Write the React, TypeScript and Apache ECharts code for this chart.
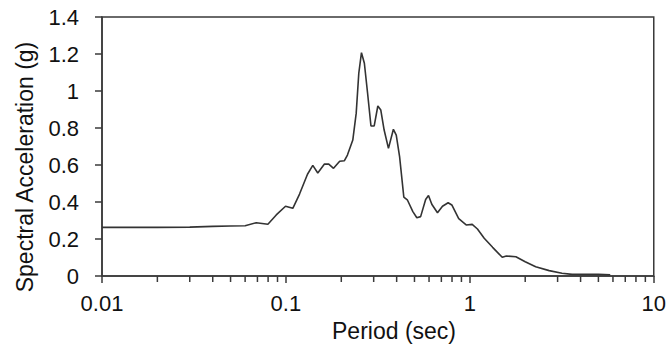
import React, { useEffect, useRef } from "react";
import * as echarts from "echarts";

const periods: number[] = [
  0.01, 0.02, 0.03, 0.04, 0.05, 0.06, 0.069, 0.0798, 0.0886, 0.0995, 0.109, 0.1186,
  0.131, 0.14, 0.149, 0.162, 0.171, 0.1815, 0.196, 0.208, 0.216, 0.231, 0.241,
  0.249, 0.2575, 0.267, 0.278, 0.29, 0.302, 0.316, 0.328, 0.342, 0.361, 0.384,
  0.398, 0.415, 0.4375, 0.457, 0.49, 0.515, 0.54, 0.575, 0.596, 0.621, 0.667,
  0.71, 0.762, 0.798, 0.87, 0.955, 1.03, 1.1, 1.197, 1.33, 1.5, 1.58, 1.78, 2.0,
  2.28, 2.7, 3.17, 3.6, 5.0, 5.8,
];
const spectralAcc: number[] = [
  0.263, 0.263, 0.264, 0.268, 0.27, 0.272, 0.288, 0.28, 0.33, 0.377, 0.366, 0.443,
  0.55, 0.598, 0.557, 0.605, 0.605, 0.582, 0.62, 0.623, 0.654, 0.735, 0.879,
  1.096, 1.207, 1.15, 0.988, 0.811, 0.811, 0.919, 0.897, 0.789, 0.69, 0.793,
  0.762, 0.645, 0.427, 0.412, 0.348, 0.315, 0.321, 0.414, 0.435, 0.388, 0.342,
  0.377, 0.396, 0.384, 0.31, 0.276, 0.279, 0.254, 0.204, 0.155, 0.101, 0.108,
  0.104, 0.077, 0.05, 0.029, 0.015, 0.009, 0.009, 0.007,
];
const minorTickValues: number[] = [
  0.02, 0.03, 0.04, 0.05, 0.06, 0.07, 0.08, 0.09,
  0.2, 0.3, 0.4, 0.5, 0.6, 0.7, 0.8, 0.9,
  2, 3, 4, 5, 6, 7, 8, 9,
];
const xTitle = "Period (sec)";
const yTitle = "Spectral Acceleration (g)";

const FONT = "'Liberation Sans', Arial, sans-serif";
const AXIS_COLOR = "#3a3a3a";

export default function App() {
  const ref = useRef<HTMLDivElement>(null);
  useEffect(() => {
    document.body.style.margin = "0";
    document.body.style.overflow = "hidden";
    if (!ref.current) return;
    const chart = echarts.init(ref.current, undefined, { renderer: "svg" });
    const lineData = periods.map((p, i) => [p, spectralAcc[i]]);
    chart.setOption({
      animation: false,
      grid: {
        left: 102,
        right: 14,
        top: 17,
        bottom: 70,
        show: true,
        borderColor: AXIS_COLOR,
        borderWidth: 1.5,
      },
      xAxis: {
        type: "log",
        logBase: 10,
        min: 0.01,
        max: 10,
        axisLine: { show: true, lineStyle: { color: AXIS_COLOR, width: 1.5 } },
        axisTick: { show: true, inside: false, length: 7, lineStyle: { color: AXIS_COLOR, width: 1.5 } },
        splitLine: { show: false },
        axisLabel: {
          color: "#111",
          fontFamily: FONT,
          fontSize: 22,
          margin: 16,
          formatter: (v: number) => String(+v.toPrecision(6)),
        },
      },
      yAxis: {
        type: "value",
        min: 0,
        max: 1.4,
        interval: 0.2,
        axisLine: { show: true, lineStyle: { color: AXIS_COLOR, width: 1.5 } },
        axisTick: { show: true, inside: false, length: 7, lineStyle: { color: AXIS_COLOR, width: 1.5 } },
        splitLine: { show: false },
        axisLabel: {
          color: "#111",
          fontFamily: FONT,
          fontSize: 22,
          margin: 23,
          formatter: (v: number) => String(+v.toFixed(1)),
        },
      },
      graphic: [
        {
          type: "text",
          x: 394,
          y: 331,
          style: {
            text: xTitle,
            font: `23px ${FONT}`,
            fill: "#111",
            align: "center",
            verticalAlign: "middle",
          },
        },
        {
          type: "text",
          x: 25,
          y: 167,
          rotation: Math.PI / 2,
          style: {
            text: yTitle,
            font: `23px ${FONT}`,
            fill: "#111",
            align: "center",
            verticalAlign: "middle",
          },
        },
      ],
      series: [
        {
          type: "line",
          data: lineData,
          showSymbol: false,
          symbol: "none",
          lineStyle: { color: "#333", width: 1.6 },
          clip: false,
        },
        {
          type: "custom",
          clip: false,
          silent: true,
          data: minorTickValues.map((v) => [v, 0]),
          renderItem: (_params: any, api: any) => {
            const pt = api.coord([api.value(0), 0]);
            return {
              type: "line",
              shape: { x1: pt[0], y1: pt[1], x2: pt[0], y2: pt[1] + 6 },
              style: { stroke: AXIS_COLOR, lineWidth: 1.5 },
            };
          },
        },
      ],
    });
    return () => chart.dispose();
  }, []);
  return (
    <div
      ref={ref}
      style={{ position: "absolute", left: 0, top: 0, width: 669, height: 346 }}
    />
  );
}
